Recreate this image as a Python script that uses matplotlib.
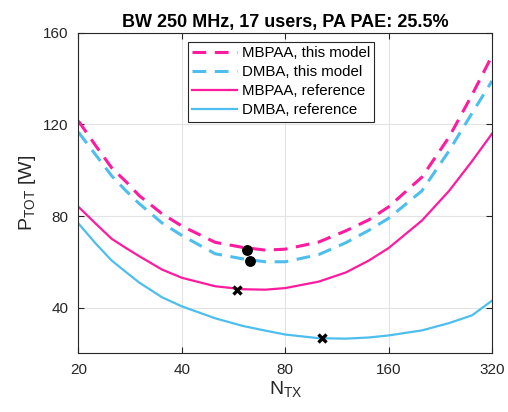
import matplotlib
matplotlib.use("Agg")
import matplotlib.pyplot as plt
from matplotlib.ticker import FixedLocator, FixedFormatter, NullLocator

plt.rcParams['font.family'] = ['Liberation Sans', 'DejaVu Sans']

# number of transmit antennas
n_tx = [20, 22.5, 25, 27.5, 30, 35, 40, 50, 60, 70, 80, 100, 120, 140, 160, 200, 240, 280, 320]

# total power [W]
mbpaa_model = [121.5, 110.5, 101, 95, 89, 81, 75.6, 68.5, 66.3, 65.1, 65.5, 68.6, 73.5, 78.3, 84, 97, 114.5, 133, 150]
dmba_model = [116.6, 106.5, 97.5, 91, 85.5, 77, 71.5, 63.5, 61.3, 60, 60, 63.1, 68.3, 73.7, 79, 91, 108.5, 125, 139]
mbpaa_ref = [84, 76.5, 70, 66, 62.5, 56.6, 53, 49.3, 48, 47.8, 48.5, 51.3, 55.3, 60.5, 66, 78, 91, 104, 116]
dmba_ref = [76.7, 67.8, 60.5, 55.5, 51, 44.5, 40.5, 35.3, 32, 29.9, 28.2, 26.6, 26.4, 26.9, 27.8, 30, 33.2, 36.6, 43]

# optimum points
opt_model_x = [62.0, 63.1]
opt_model_y = [65.3, 60.2]
opt_ref_x = [57.8, 102.5]
opt_ref_y = [47.7, 26.5]

x_ticks = [20, 40, 80, 160, 320]
y_ticks = [40, 80, 120, 160]

PINK = "#FF1A9E"
BLUE = "#4DBEEE"
DARK = "#262626"

fig = plt.figure(figsize=(5.08, 4.12), dpi=100)
ax = fig.add_axes([0.1545, 0.1425, 0.814, 0.7775])

ax.plot(n_tx, mbpaa_model, color=PINK, lw=2.2, ls=(0, (4.5, 2.8)), label="MBPAA, this model")
ax.plot(n_tx, dmba_model, color=BLUE, lw=2.2, ls=(0, (4.5, 2.8)), label="DMBA, this model")
ax.plot(n_tx, mbpaa_ref, color=PINK, lw=1.6, label="MBPAA, reference")
ax.plot(n_tx, dmba_ref, color=BLUE, lw=1.6, label="DMBA, reference")
ax.plot(opt_model_x, opt_model_y, "o", color="black", ms=6.8, ls="none")
ax.plot(opt_ref_x, opt_ref_y, "x", color="black", ms=5.5, mew=2.4, ls="none")

ax.set_xscale("log", base=2)
ax.set_xlim(20, 320)
ax.set_ylim(20, 160)
ax.xaxis.set_major_locator(FixedLocator(x_ticks))
ax.xaxis.set_major_formatter(FixedFormatter([str(v) for v in x_ticks]))
ax.xaxis.set_minor_locator(NullLocator())
ax.set_yticks(y_ticks)

ax.grid(True, color="#E3E3E3", lw=0.8)
ax.set_axisbelow(True)
for s in ax.spines.values():
    s.set_color(DARK)
    s.set_linewidth(0.8)
ax.tick_params(direction="in", length=4, width=0.8, colors=DARK, labelsize=11,
               top=True, right=True, pad=7)

ax.set_xlabel("N$_{\\mathregular{TX}}$", fontsize=14, color=DARK, labelpad=2)
ax.set_ylabel("P$_{\\mathregular{TOT}}$ [W]", fontsize=14, color=DARK, labelpad=4)
ax.set_title("BW 250 MHz, 17 users, PA PAE: 25.5%", fontsize=13, fontweight="bold", pad=4)

leg = ax.legend(loc="upper center", bbox_to_anchor=(0.49, 0.972), borderaxespad=0,
                fontsize=10.8, handlelength=3.0, handletextpad=0.3, borderpad=0.3,
                labelspacing=0.33, fancybox=False, framealpha=1, edgecolor=DARK)
leg.get_frame().set_linewidth(0.8)

fig.savefig("out.png", dpi=100, facecolor="white")
